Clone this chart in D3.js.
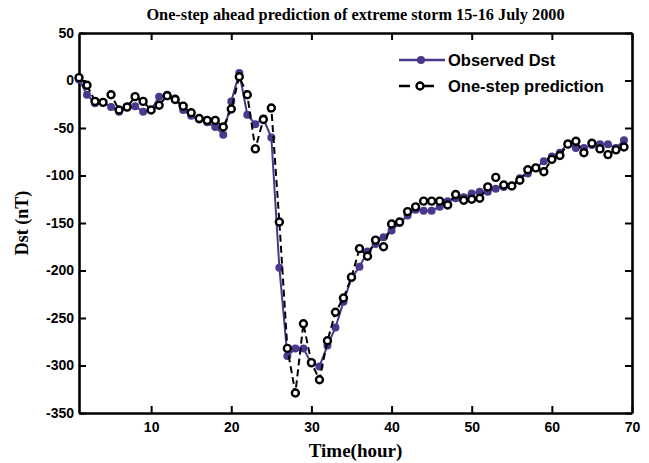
<!DOCTYPE html>
<html>
<head>
<meta charset="utf-8">
<script src="https://cdn.jsdelivr.net/npm/d3@7"></script>
<style>
  body { margin: 0; background: #fff; }
  svg { display: block; }
</style>
</head>
<body>
<div id="chart"></div>
<script>
const hours = d3.range(1, 70);
const observedDst = [1, -15, -24, -23, -28, -33, -27, -27, -33, -31,
  -17, -15, -19, -31, -37, -41, -44, -49, -57, -22,
  8, -36, -46, -40, -60, -197, -290, -282, -282, -298,
  -301, -279, -260, -233, -208, -196, -180, -172, -165, -158,
  -150, -142, -136, -137, -137, -133, -127, -124, -123, -119,
  -117, -117, -114, -112, -111, -103, -98, -92, -85, -80,
  -76, -66, -71, -71, -68, -67, -67, -71, -63];
const predictedDst = [3, -5, -22, -23, -15, -31, -28, -17, -22, -31,
  -26, -16, -20, -27, -34, -40, -42, -42, -49, -30,
  4, -15, -72, -41, -29, -149, -282, -329, -256, -297,
  -315, -274, -244, -229, -207, -177, -185, -168, -175, -151,
  -149, -138, -133, -127, -127, -127, -131, -120, -126, -125,
  -124, -112, -102, -110, -111, -105, -94, -92, -96, -83,
  -79, -67, -64, -76, -66, -72, -78, -73, -70];
const xTicks = [10, 20, 30, 40, 50, 60, 70];
const yTicks = [50, 0, -50, -100, -150, -200, -250, -300, -350];

const W = 649, H = 463;
const MARGIN = { TOP: 33, RIGHT: 17, BOTTOM: 50, LEFT: 79 };
const w = W - MARGIN.LEFT - MARGIN.RIGHT;
const h = H - MARGIN.TOP - MARGIN.BOTTOM;
const PURPLE = "#4b378c";
const SANS = "'Liberation Sans', Arial, sans-serif";
const SERIF = "'Liberation Serif', 'Times New Roman', serif";

const svg = d3.select("#chart").append("svg")
  .attr("width", W).attr("height", H);
const g = svg.append("g")
  .attr("transform", `translate(${MARGIN.LEFT},${MARGIN.TOP})`);

const x = d3.scaleLinear().domain([1, 70]).range([0, w]);
const y = d3.scaleLinear().domain([-350, 50]).range([h, 0]);

// plain hyphen for negatives, like the original
const fmt = d => String(d);

// axes, matlab style box with inward ticks
function styleAxis(sel) {
  sel.select(".domain").attr("stroke", "#000").attr("stroke-width", 2.6);
  sel.selectAll(".tick line").attr("stroke", "#000").attr("stroke-width", 2);
  sel.selectAll(".tick text")
    .attr("fill", "#000")
    .style("font-family", SANS)
    .style("font-weight", "bold")
    .style("font-size", "14px");
}

g.append("g").attr("transform", `translate(0,${h})`)
  .call(d3.axisBottom(x).tickValues(xTicks).tickFormat(fmt).tickSizeInner(-7).tickSizeOuter(0).tickPadding(9))
  .call(styleAxis);
g.append("g")
  .call(d3.axisTop(x).tickValues(xTicks).tickSizeInner(-7).tickSizeOuter(0).tickFormat(""))
  .call(styleAxis);
g.append("g")
  .call(d3.axisLeft(y).tickValues(yTicks).tickFormat(fmt).tickSizeInner(-7).tickSizeOuter(0).tickPadding(5))
  .call(styleAxis);
g.append("g").attr("transform", `translate(${w},0)`)
  .call(d3.axisRight(y).tickValues(yTicks).tickSizeInner(-7).tickSizeOuter(0).tickFormat(""))
  .call(styleAxis);

// observed series
const obs = hours.map((t, i) => ({ t, v: observedDst[i] }));
const pred = hours.map((t, i) => ({ t, v: predictedDst[i] }));
const line = d3.line().x(d => x(d.t)).y(d => y(d.v));

g.append("path").datum(obs)
  .attr("fill", "none").attr("stroke", PURPLE).attr("stroke-width", 2)
  .attr("d", line);
g.selectAll(".obs").data(obs).join("circle")
  .attr("class", "obs")
  .attr("cx", d => x(d.t)).attr("cy", d => y(d.v))
  .attr("r", 4).attr("fill", PURPLE);

// one-step prediction
g.append("path").datum(pred)
  .attr("fill", "none").attr("stroke", "#000").attr("stroke-width", 2)
  .attr("stroke-dasharray", "7,4")
  .attr("d", line);
g.selectAll(".pred").data(pred).join("circle")
  .attr("class", "pred")
  .attr("cx", d => x(d.t)).attr("cy", d => y(d.v))
  .attr("r", 3.5).attr("fill", "#fff").attr("stroke", "#000").attr("stroke-width", 2.4);

// legend
const lg = svg.append("g").attr("transform", "translate(399,0)");
lg.append("line").attr("x1", 0).attr("x2", 46).attr("y1", 60).attr("y2", 60)
  .attr("stroke", PURPLE).attr("stroke-width", 2.5);
lg.append("circle").attr("cx", 22).attr("cy", 60).attr("r", 4).attr("fill", PURPLE);
lg.append("line").attr("x1", 0).attr("x2", 46).attr("y1", 86).attr("y2", 86)
  .attr("stroke", "#000").attr("stroke-width", 2.5).attr("stroke-dasharray", "11,13");
lg.append("circle").attr("cx", 21).attr("cy", 86).attr("r", 3.5)
  .attr("fill", "#fff").attr("stroke", "#000").attr("stroke-width", 2.4);
lg.selectAll(".lgtext").data(["Observed Dst", "One-step prediction"]).join("text")
  .attr("x", 49).attr("y", (d, i) => 66 + i * 26)
  .style("font-family", SANS).style("font-weight", "bold").style("font-size", "16.5px")
  .text(d => d);

// title and labels
svg.append("text")
  .attr("x", MARGIN.LEFT + w / 2).attr("y", 20)
  .attr("text-anchor", "middle")
  .style("font-family", SERIF).style("font-weight", "bold").style("font-size", "16.3px")
  .text("One-step ahead prediction of extreme storm 15-16 July 2000");
svg.append("text")
  .attr("x", MARGIN.LEFT + w / 2).attr("y", 457)
  .attr("text-anchor", "middle")
  .style("font-family", SERIF).style("font-weight", "bold").style("font-size", "19px")
  .text("Time(hour)");
svg.append("text")
  .attr("transform", `translate(28,${MARGIN.TOP + h / 2}) rotate(-90)`)
  .attr("text-anchor", "middle")
  .style("font-family", SERIF).style("font-weight", "bold").style("font-size", "18px")
  .text("Dst (nT)");
</script>
</body>
</html>
